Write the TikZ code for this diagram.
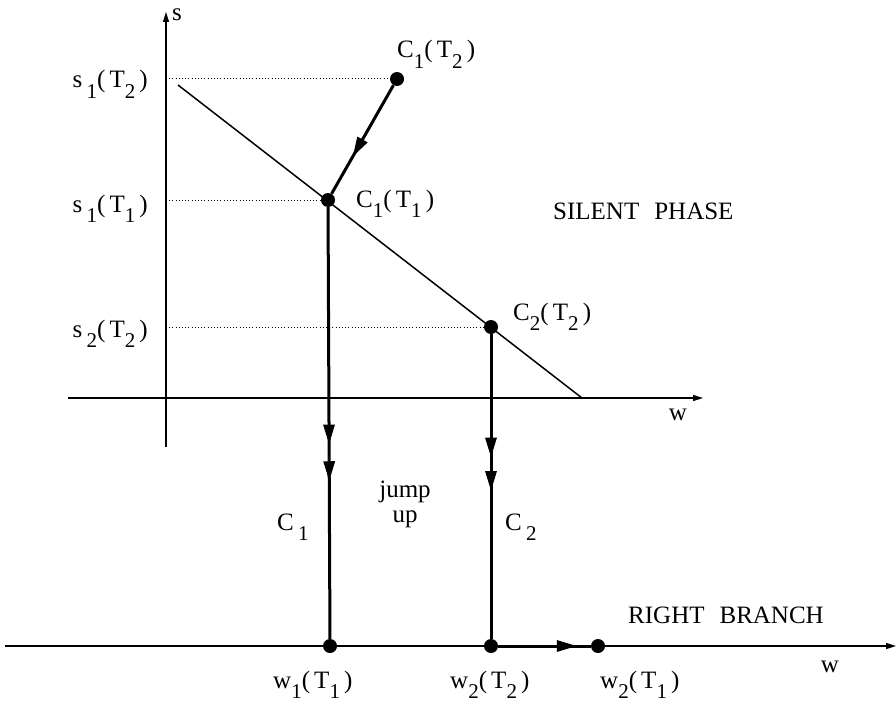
\documentclass[tikz,border=0pt]{standalone}
\usepackage{fontspec}
\setmainfont{Liberation Serif}
\usetikzlibrary{arrows.meta,decorations.markings}
\newcommand\lo[1]{\raisebox{-0.42em}{\fontsize{21}{21}\selectfont #1}}
\newcommand\lab[3]{#1\lo{#2}(\,T\lo{#3}\,)}
\tikzset{
  thinln/.style={line width=1.5pt},
  thickln/.style={line width=3pt},
  dotln/.style={line width=1pt, dash pattern=on 1pt off 2.2pt},
  dot/.style={circle, fill=black, inner sep=0pt, minimum size=14pt},
  lbl/.style={inner sep=0pt, anchor=base west},
  lble/.style={inner sep=0pt, anchor=base east},
  lblc/.style={inner sep=0pt, anchor=base},
  axarrow/.style={-{Triangle[length=10pt,width=6pt]}},
  bigtip/.tip={Triangle[length=20pt,width=11pt]},
  onearr/.style={postaction={decorate}, decoration={markings,
      mark=at position #1 with {\arrow{bigtip}}}},
  twoarr/.style 2 args={postaction={decorate}, decoration={markings,
      mark=at position #1 with {\arrow{bigtip}},
      mark=at position #2 with {\arrow{bigtip}}}}
}
\begin{document}
\begin{tikzpicture}[x=1pt,y=-1pt,font=\fontsize{25}{29}\selectfont]
\useasboundingbox (0,0) rectangle (896,706);
% axes
\coordinate (sB) at (166,447);
\coordinate (sT) at (166,12);
\coordinate (uL) at (68,398);
\coordinate (uR) at (703,398);
\coordinate (lL) at (5,646);
\coordinate (lR) at (896,646);
\draw[thinln,axarrow] (sB) -- (sT);
\draw[thinln,axarrow] (uL) -- (uR);
\draw[thinln,axarrow] (lL) -- (lR);
% axis points
\coordinate (y1) at (166,79);
\coordinate (y2) at (166,200);
\coordinate (y3) at (166,327);
% diagonal
\coordinate (dA) at (178,85);
\coordinate (dB) at (582,398);
\draw[thinln] (dA) -- (dB);
% dots
\node[dot] (c12) at (397,79) {};
\node[dot] (c11) at (328,200) {};
\node[dot] (c22) at (491,327) {};
\node[dot] (w11) at (330,646) {};
\node[dot] (w22) at (491,646) {};
\node[dot] (w21) at (598,646) {};
% dotted guides
\draw[dotln] (y1) -- (c12);
\draw[dotln] (y2) -- (c11);
\draw[dotln] (y3) -- (c22);
% trajectories
\draw[thickln,onearr=0.66] (c12) -- (c11);
\draw[thickln,twoarr={0.55}{0.635}] (c11) -- (w11);
\draw[thickln,twoarr={0.405}{0.515}] (c22) -- (w22);
\draw[thickln,onearr=0.85] (w22) -- (w21);
% labels
\node[lble] (ls12) at (148,88) {\lab{s\,}{1}{2}};
\node[lble] (ls11) at (148,212) {\lab{s\,}{1}{1}};
\node[lble] (ls22) at (148,337) {\lab{s\,}{2}{2}};
\node[lbl] (ls) at (172,21) {s};
\node[lbl] (lc12) at (397,58) {\lab{C}{1}{2}};
\node[lbl] (lc11) at (356,207) {\lab{C}{1}{1}};
\node[lbl] (lc22) at (513,320) {\lab{C}{2}{2}};
\node[lbl] (lsil) at (553,219) {SILENT\hspace{0.6em}PHASE};
\node[lblc] (lwu) at (678,420) {w};
\node[lblc] (ljump) at (405,497) {jump};
\node[lblc] (lup) at (405,522) {up};
\node[lbl] (lC1) at (277,530) {C\,\lo{1}};
\node[lbl] (lC2) at (505,530) {C\,\lo{2}};
\node[lbl] (lrb) at (628,623) {RIGHT\hspace{0.6em}BRANCH};
\node[lbl] (lw11) at (273,688) {\lab{w}{1}{1}};
\node[lbl] (lw22) at (450,688) {\lab{w}{2}{2}};
\node[lbl] (lw21) at (600,688) {\lab{w}{2}{1}};
\node[lblc] (lwl) at (830,672) {w};
\end{tikzpicture}
\end{document}
